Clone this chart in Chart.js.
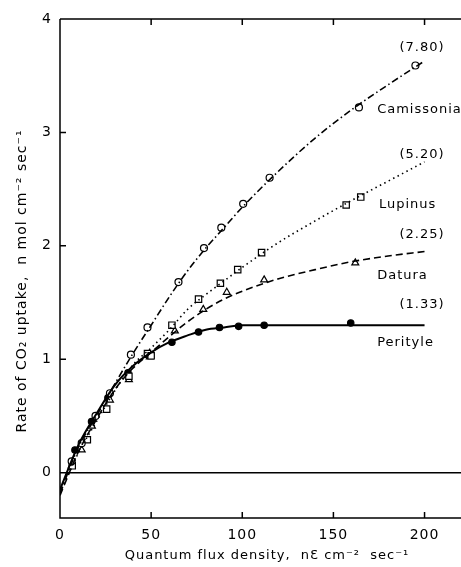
<!DOCTYPE html>
<html>
<head>
<meta charset="utf-8">
<script src="https://cdn.jsdelivr.net/npm/chart.js@4/dist/chart.umd.min.js"></script>
<style>
  html, body { margin: 0; padding: 0; background: #fff; }
  #wrap { width: 461px; height: 567px; }
</style>
</head>
<body>
<div id="wrap"><canvas id="chart" width="461" height="567"></canvas></div>
<script>
const camX = [6.4, 11.9, 19.5, 27.4, 38.9, 48, 65, 79, 88.5, 100.5, 115, 164, 195];
const camY = [0.10, 0.26, 0.50, 0.70, 1.04, 1.28, 1.68, 1.98, 2.16, 2.37, 2.60, 3.22, 3.59];
const lupX = [6.7, 15, 25.6, 37.8, 48, 50, 61.4, 76, 88, 97.5, 110.6, 157, 165];
const lupY = [0.06, 0.29, 0.56, 0.85, 1.05, 1.03, 1.30, 1.53, 1.67, 1.79, 1.94, 2.36, 2.43];
const datX = [6.4, 11.9, 17.5, 27.4, 37.8, 49.3, 63, 78.6, 91.5, 112, 162];
const datY = [0.06, 0.20, 0.41, 0.64, 0.82, 1.02, 1.25, 1.44, 1.59, 1.70, 1.85];
const perX = [8.2, 17.3, 26.3, 37.3, 48, 61.4, 76, 87.5, 98, 112, 159.5];
const perY = [0.20, 0.45, 0.66, 0.88, 1.04, 1.15, 1.24, 1.28, 1.29, 1.30, 1.32];

// fitted curves
const curveX = [0, 10, 20, 30, 40, 50, 60, 70, 80, 90, 100, 120, 140, 160, 180, 200];
const camFit = [-0.18, 0.22, 0.50, 0.78, 1.05, 1.30, 1.55, 1.78, 1.98, 2.16, 2.34, 2.66, 2.95, 3.20, 3.42, 3.63];
const lupFit = [-0.18, 0.17, 0.45, 0.72, 0.95, 1.10, 1.26, 1.44, 1.57, 1.69, 1.81, 2.03, 2.22, 2.40, 2.57, 2.74];
const datFit = [-0.20, 0.18, 0.47, 0.73, 0.92, 1.06, 1.20, 1.33, 1.44, 1.53, 1.60, 1.71, 1.79, 1.86, 1.91, 1.95];
const perFit = [-0.15, 0.24, 0.52, 0.77, 0.94, 1.06, 1.15, 1.21, 1.26, 1.28, 1.30, 1.30, 1.30, 1.30, 1.30, 1.30];

const xTicks = [0, 50, 100, 150, 200];
const yTicks = [0, 1, 2, 3, 4];

const xTitle = 'Quantum flux density,  n\u0190 cm\u207B\u00B2  sec\u207B\u00B9';
const yTitle = 'Rate of CO\u2082 uptake,  n mol cm\u207B\u00B2 sec\u207B\u00B9';

const FONT = '"DejaVu Sans", sans-serif';

function pts(xs, ys) {
  return xs.map((x, i) => ({ x: x, y: ys[i] }));
}

function curve(ys, dash) {
  return {
    data: pts(curveX, ys),
    showLine: true,
    borderColor: '#000',
    borderWidth: dash.length ? 1.6 : 2,
    borderDash: dash,
    pointRadius: 0,
    cubicInterpolationMode: 'monotone',
    fill: false
  };
}

function marks(xs, ys, style, r, filled) {
  return {
    data: pts(xs, ys),
    showLine: false,
    pointStyle: style,
    pointRadius: r,
    pointBorderWidth: 1.2,
    pointBorderColor: '#000',
    pointBackgroundColor: filled ? '#000' : '#fff'
  };
}

// series labels
const notes = [
  { text: '(7.80)', x: 211, y: 3.75, align: 'right' },
  { text: 'Camissonia', x: 174, y: 3.20, align: 'left' },
  { text: '(5.20)', x: 211, y: 2.80, align: 'right' },
  { text: 'Lupinus', x: 175, y: 2.36, align: 'left' },
  { text: '(2.25)', x: 211, y: 2.10, align: 'right' },
  { text: 'Datura', x: 174, y: 1.74, align: 'left' },
  { text: '(1.33)', x: 211, y: 1.48, align: 'right' },
  { text: 'Perityle', x: 174, y: 1.15, align: 'left' }
];

const frame = {
  id: 'frame',
  beforeDraw(chart) {
    chart.ctx.letterSpacing = '1px';
  },
  beforeDatasetsDraw(chart) {
    const { ctx, chartArea: a, scales } = chart;
    const xs = scales.x, ys = scales.y;
    ctx.save();
    ctx.strokeStyle = '#000';
    ctx.lineWidth = 1.5;
    ctx.beginPath();
    ctx.moveTo(a.left, a.top);
    ctx.lineTo(a.right, a.top);
    ctx.moveTo(a.left, a.top);
    ctx.lineTo(a.left, a.bottom);
    ctx.lineTo(a.right, a.bottom);
    const y0 = ys.getPixelForValue(0);
    ctx.moveTo(a.left, y0);
    ctx.lineTo(a.right, y0);
    xTicks.forEach(v => {
      if (v === 0) return;
      const px = xs.getPixelForValue(v);
      ctx.moveTo(px, a.bottom);
      ctx.lineTo(px, a.bottom - 6);
      ctx.moveTo(px, a.top);
      ctx.lineTo(px, a.top + 6);
    });
    yTicks.forEach(v => {
      if (v === 0) return;
      const py = ys.getPixelForValue(v);
      ctx.moveTo(a.left, py);
      ctx.lineTo(a.left + 6, py);
    });
    ctx.stroke();

    // axis titles
    ctx.fillStyle = '#000';
    ctx.textAlign = 'center';
    ctx.textBaseline = 'middle';
    ctx.font = '13px ' + FONT;
    ctx.fillText(xTitle, 267, 556);
    ctx.translate(22, 281);
    ctx.rotate(-Math.PI / 2);
    ctx.font = '14px ' + FONT;
    ctx.fillText(yTitle, 0, 0);
    ctx.restore();
  },
  afterDatasetsDraw(chart) {
    const { ctx, scales } = chart;
    ctx.save();
    ctx.fillStyle = '#000';
    ctx.font = '13px ' + FONT;
    ctx.textBaseline = 'middle';
    notes.forEach(n => {
      ctx.textAlign = n.align;
      ctx.fillText(n.text, scales.x.getPixelForValue(n.x), scales.y.getPixelForValue(n.y));
    });
    ctx.restore();
  }
};

new Chart(document.getElementById('chart'), {
  type: 'scatter',
  data: {
    datasets: [
      curve(camFit, [7, 3, 1.5, 3]),
      curve(lupFit, [1.5, 3.5]),
      curve(datFit, [7, 4]),
      curve(perFit, []),
      marks(camX, camY, 'circle', 3.5, false),
      marks(lupX, lupY, 'rect', 4.5, false),
      marks(datX, datY, 'triangle', 4, false),
      marks(perX, perY, 'circle', 3.2, true)
    ]
  },
  options: {
    responsive: false,
    animation: false,
    layout: { autoPadding: false, padding: { top: 19, right: 0, left: 0, bottom: 0 } },
    plugins: { legend: { display: false }, tooltip: { enabled: false } },
    scales: {
      x: {
        type: 'linear',
        min: 0,
        max: 220,
        afterBuildTicks: s => { s.ticks = xTicks.map(v => ({ value: v })); },
        afterFit: s => { s.height = 49; s.paddingLeft = 0; s.paddingRight = 0; },
        grid: { display: false, drawTicks: false },
        border: { display: false },
        ticks: { color: '#000', padding: 9, font: { family: FONT, size: 14 }, maxRotation: 0 }
      },
      y: {
        type: 'linear',
        min: -0.4,
        max: 4,
        afterBuildTicks: s => { s.ticks = yTicks.map(v => ({ value: v })); },
        afterFit: s => { s.width = 60; s.paddingTop = 0; s.paddingBottom = 0; },
        grid: { display: false, drawTicks: false },
        border: { display: false },
        ticks: { color: '#000', padding: 8, font: { family: FONT, size: 14 } }
      }
    }
  },
  plugins: [frame]
});
</script>
</body>
</html>
